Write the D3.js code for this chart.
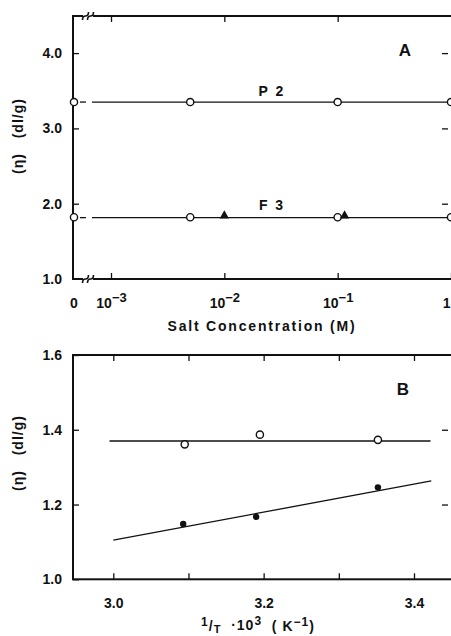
<!DOCTYPE html>
<html><head><meta charset="utf-8">
<script src="https://cdn.jsdelivr.net/npm/d3@7"></script>
<style>
body{margin:0;background:#fff;}
svg{display:block;font-family:"Liberation Sans",Arial,sans-serif;}
</style></head>
<body>
<svg id="chart" width="451" height="636"></svg>
<script>
// ---------- Panel A data ----------
const saltConc = [0, 0.005, 0.1, 1];
const p2Values = [3.35, 3.35, 3.35, 3.35];
const f3Values = [1.82, 1.82, 1.82, 1.82];
const f3TriConc = [0.01, 0.115];
const f3TriValues = [1.84, 1.84];
const p2Fit = 3.35;
const f3Fit = 1.815;
const aYTicks = [1.0, 2.0, 3.0, 4.0];
const aXTicks = [0.001, 0.01, 0.1, 1];
const aXTickExp = ["−3", "−2", "−1", ""];

// ---------- Panel B data ----------
const invT = [3.095, 3.195, 3.352];
const openValues = [1.361, 1.387, 1.373];
const invTFilled = [3.093, 3.19, 3.352];
const filledValues = [1.148, 1.167, 1.246];
const openFitX = [2.995, 3.422];
const openFitY = [1.370, 1.370];
const filledFitX = [3.0, 3.423];
const filledFitY = [1.105, 1.263];
const bXTicks = [3.0, 3.1, 3.2, 3.3, 3.4];
const bXLabels = [3.0, 3.2, 3.4];
const bYTicks = [1.0, 1.2, 1.4, 1.6];

const svg = d3.select("#chart");
const FONT = 14;
const ink = "#111";

// ---------- Panel A ----------
const A = {left: 73, right: 453, top: 16, bottom: 279};
const yA = d3.scaleLinear().domain([1.0, 4.5]).range([A.bottom, A.bottom - 3.5 * 75.3]);
const xLog = d3.scaleLog().domain([0.001, 1]).range([111, 451]);
const xA = v => v === 0 ? A.left + 1 : xLog(v);
const gA = svg.append("g");

// frame with breaks
const brk = 88;
gA.append("path").attr("fill", "none").attr("stroke", ink).attr("stroke-width", 2)
  .attr("d", `M${brk-5},${A.top} L${A.left},${A.top} L${A.left},${A.bottom} L${brk-5},${A.bottom}
              M${brk+5},${A.top} L${A.right},${A.top} L${A.right},${A.bottom} L${brk+5},${A.bottom}`);
[A.top, A.bottom].forEach(yy => {
  [-2.5, 2.5].forEach(dx => {
    gA.append("path").attr("fill", "none").attr("stroke", ink).attr("stroke-width", 1.6)
      .attr("d", `M${brk+dx-3},${yy+4} Q${brk+dx-3},${yy} ${brk+dx},${yy} Q${brk+dx+3},${yy} ${brk+dx+3},${yy-4}`);
  });
});

// y axis left
const axA = gA.append("g").attr("transform", `translate(${A.left},0)`)
  .call(d3.axisLeft(yA).tickValues(aYTicks).tickFormat(d3.format(".1f")).tickSizeInner(-6).tickSizeOuter(0).tickPadding(11));
axA.select(".domain").remove();
axA.selectAll("line").attr("stroke", ink).attr("stroke-width", 1.3);
axA.selectAll("text").attr("font-size", FONT).attr("font-weight", "bold").attr("fill", ink);
axA.selectAll(".tick").filter(d => d === 1.0).select("line").remove();
// y axis right ticks
const axAR = gA.append("g").attr("transform", `translate(${A.right-5},0)`)
  .call(d3.axisRight(yA).tickValues(aYTicks.slice(1)).tickFormat("").tickSizeInner(-6).tickSizeOuter(0));
axAR.select(".domain").remove();
axAR.selectAll("line").attr("stroke", ink).attr("stroke-width", 1.3);

// x axis bottom
const axAB = gA.append("g").attr("transform", `translate(0,${A.bottom})`)
  .call(d3.axisBottom(xLog).tickValues(aXTicks).tickSizeInner(-6).tickSizeOuter(0).tickPadding(19)
    .tickFormat(d => d));
axAB.select(".domain").remove();
axAB.selectAll("line").attr("stroke", ink).attr("stroke-width", 1.3);
axAB.selectAll("text").attr("font-size", FONT).attr("font-weight", "bold").attr("fill", ink)
  .each(function(d, i) {
    const t = d3.select(this);
    t.text(null);
    if (aXTickExp[i] === "") { t.attr("text-anchor", "end").attr("x", -1).append("tspan").text("1"); return; }
    t.attr("text-anchor", "middle");
    t.append("tspan").text("10");
    t.append("tspan").attr("dy", "-0.45em").attr("font-size", FONT - 1).text(aXTickExp[i]);
  });
// x axis top ticks
const axAT = gA.append("g").attr("transform", `translate(0,${A.top})`)
  .call(d3.axisTop(xLog).tickValues(aXTicks.slice(0, 3)).tickFormat("").tickSizeInner(-6).tickSizeOuter(0));
axAT.select(".domain").remove();
axAT.selectAll("line").attr("stroke", ink).attr("stroke-width", 1.3);
// zero label
gA.append("text").attr("x", xA(0)).attr("y", A.bottom + 19).attr("dy", "0.71em")
  .attr("text-anchor", "middle").attr("font-size", FONT).attr("font-weight", "bold").attr("fill", ink).text("0");

// fit lines
[[p2Fit], [f3Fit]].forEach(([v]) => {
  gA.append("line").attr("x1", xA(0) + 6).attr("x2", A.left + 13).attr("y1", yA(v)).attr("y2", yA(v))
    .attr("stroke", ink).attr("stroke-width", 1.3);
  gA.append("line").attr("x1", A.left + 19).attr("x2", xLog(1)).attr("y1", yA(v)).attr("y2", yA(v))
    .attr("stroke", ink).attr("stroke-width", 1.3);
});
// circles
[p2Values, f3Values].forEach(vals => {
  gA.selectAll(null).data(saltConc.map((c, i) => [c, vals[i]])).enter().append("circle")
    .attr("cx", d => xA(d[0])).attr("cy", d => yA(d[1])).attr("r", 3.6)
    .attr("fill", "#fff").attr("stroke", ink).attr("stroke-width", 1.4);
});
// triangles
gA.selectAll(null).data(f3TriConc.map((c, i) => [c, f3TriValues[i]])).enter().append("path")
  .attr("transform", d => `translate(${xLog(d[0])},${yA(d[1])})`)
  .attr("d", d3.symbol().type(d3.symbolTriangle).size(38)).attr("fill", ink);

// labels
gA.append("text").attr("x", 272).attr("y", 96).attr("text-anchor", "middle").attr("font-size", FONT)
  .attr("font-weight", "bold").attr("fill", ink).attr("letter-spacing", 2).text("P 2");
gA.append("text").attr("x", 272).attr("y", 210).attr("text-anchor", "middle").attr("font-size", FONT)
  .attr("font-weight", "bold").attr("fill", ink).attr("letter-spacing", 2).text("F 3");
gA.append("text").attr("x", 405).attr("y", 56).attr("text-anchor", "middle").attr("font-size", 17)
  .attr("font-weight", "bold").attr("fill", ink).text("A");
gA.append("text").attr("transform", "translate(23,136) rotate(-90)").attr("text-anchor", "middle")
  .attr("font-size", FONT).attr("font-weight", "bold").attr("fill", ink).attr("letter-spacing", 1)
  .attr("xml:space", "preserve").text("(η)   (dl/g)");
gA.append("text").attr("x", 262).attr("y", 331).attr("text-anchor", "middle").attr("font-size", FONT)
  .attr("font-weight", "bold").attr("fill", ink).attr("letter-spacing", 1.8).text("Salt Concentration (M)");

// ---------- Panel B ----------
const B = {left: 73, right: 453, top: 355, bottom: 579.3};
const xB = d3.scaleLinear().domain([3.0, 3.4]).range([113.3, 414]);
const yB = d3.scaleLinear().domain([1.0, 1.6]).range([B.bottom, B.top]);
const gB = svg.append("g");
gB.append("rect").attr("x", B.left).attr("y", B.top).attr("width", B.right - B.left).attr("height", B.bottom - B.top)
  .attr("fill", "none").attr("stroke", ink).attr("stroke-width", 2);

const axBL = gB.append("g").attr("transform", `translate(${B.left},0)`)
  .call(d3.axisLeft(yB).tickValues(bYTicks).tickFormat(d3.format(".1f")).tickSizeInner(-6).tickSizeOuter(0).tickPadding(11));
axBL.select(".domain").remove();
axBL.selectAll("line").attr("stroke", ink).attr("stroke-width", 1.3);
axBL.selectAll("text").attr("font-size", FONT).attr("font-weight", "bold").attr("fill", ink);
const axBR = gB.append("g").attr("transform", `translate(${B.right-5},0)`)
  .call(d3.axisRight(yB).tickValues([1.2, 1.4]).tickFormat("").tickSizeInner(-6).tickSizeOuter(0));
axBR.select(".domain").remove();
axBR.selectAll("line").attr("stroke", ink).attr("stroke-width", 1.3);

const axBB = gB.append("g").attr("transform", `translate(0,${B.bottom})`)
  .call(d3.axisBottom(xB).tickValues(bXTicks).tickSizeInner(-6).tickSizeOuter(0).tickPadding(19)
    .tickFormat(d => bXLabels.some(l => Math.abs(l - d) < 1e-9) ? d3.format(".1f")(d) : ""));
axBB.select(".domain").remove();
axBB.selectAll("line").attr("stroke", ink).attr("stroke-width", 1.3);
axBB.selectAll("text").attr("font-size", FONT).attr("font-weight", "bold").attr("fill", ink);
const axBT = gB.append("g").attr("transform", `translate(0,${B.top})`)
  .call(d3.axisTop(xB).tickValues(bXTicks).tickFormat("").tickSizeInner(-6).tickSizeOuter(0));
axBT.select(".domain").remove();
axBT.selectAll("line").attr("stroke", ink).attr("stroke-width", 1.3);

const lineB = d3.line().x(d => xB(d[0])).y(d => yB(d[1]));
gB.append("path").attr("d", lineB(openFitX.map((x, i) => [x, openFitY[i]])))
  .attr("stroke", ink).attr("stroke-width", 1.3).attr("fill", "none");
gB.append("path").attr("d", lineB(filledFitX.map((x, i) => [x, filledFitY[i]])))
  .attr("stroke", ink).attr("stroke-width", 1.3).attr("fill", "none");
gB.selectAll(null).data(invT.map((x, i) => [x, openValues[i]])).enter().append("circle")
  .attr("cx", d => xB(d[0])).attr("cy", d => yB(d[1])).attr("r", 3.6)
  .attr("fill", "#fff").attr("stroke", ink).attr("stroke-width", 1.4);
gB.selectAll(null).data(invTFilled.map((x, i) => [x, filledValues[i]])).enter().append("circle")
  .attr("cx", d => xB(d[0])).attr("cy", d => yB(d[1])).attr("r", 3.2).attr("fill", ink);

gB.append("text").attr("x", 403).attr("y", 395).attr("text-anchor", "middle").attr("font-size", 17)
  .attr("font-weight", "bold").attr("fill", ink).text("B");
gB.append("text").attr("transform", "translate(23,453) rotate(-90)").attr("text-anchor", "middle")
  .attr("font-size", FONT).attr("font-weight", "bold").attr("fill", ink).attr("letter-spacing", 1)
  .attr("xml:space", "preserve").text("(η)   (dl/g)");
const xl = gB.append("text").attr("x", 258).attr("y", 630).attr("text-anchor", "middle").attr("font-size", FONT)
  .attr("font-weight", "bold").attr("fill", ink).attr("letter-spacing", 1).attr("xml:space", "preserve");
xl.append("tspan").attr("dy", "-0.3em").attr("font-size", FONT - 2).text("1");
xl.append("tspan").attr("dy", "0.3em").text("/");
xl.append("tspan").attr("dy", "0.25em").attr("font-size", FONT - 3).text("T");
xl.append("tspan").attr("dy", "-0.25em").text("  ·10");
xl.append("tspan").attr("dy", "-0.4em").attr("font-size", FONT - 2).text("3");
xl.append("tspan").attr("dy", "0.4em").text("  ( K");
xl.append("tspan").attr("dy", "-0.4em").attr("font-size", FONT - 2).text("−1");
xl.append("tspan").attr("dy", "0.4em").text(")");
</script>
</body></html>
